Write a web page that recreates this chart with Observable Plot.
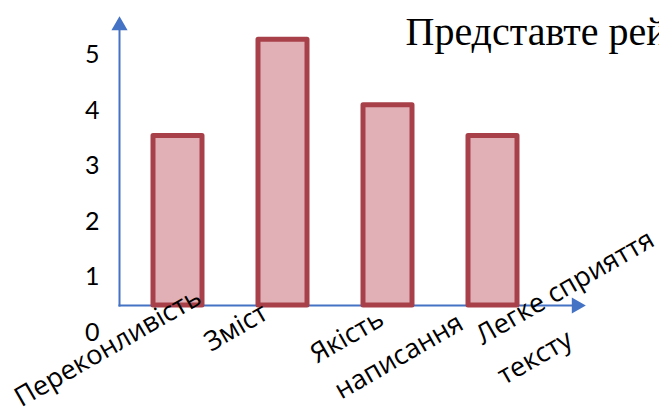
<!DOCTYPE html>
<html>
<head>
<meta charset="utf-8">
<script src="https://cdn.jsdelivr.net/npm/d3@7"></script>
<script src="https://cdn.jsdelivr.net/npm/@observablehq/plot@0.6"></script>
<style>
  html, body { margin: 0; padding: 0; background: #fff; overflow: hidden; }
  #chart svg { display: block; overflow: hidden; }
</style>
</head>
<body>
<div id="chart"></div>
<script>
// ---- data ----
const categories = ["Переконливість", "Зміст", "Якість написання", "Легке сприяття тексту"];
const values = [3.05, 4.78, 3.6, 3.05];
const labelLines = [["Переконливість"], ["Зміст"], ["Якість", "написання"], ["Легке сприяття", "тексту"]];
const yTicks = [0, 1, 2, 3, 4, 5];
const title = "Представте рейтинг";

// ---- layout (not data) ----
const W = 659, H = 414;
const blue = "#4472c4";
const fillC = "#e0b0b6", strokeC = "#a8404a";
const tickFont = "Lato, 'Open Sans', sans-serif";
const labelFont = "'Open Sans', 'Noto Sans', sans-serif";
// per-line label offsets from (category centre, baseline)
const labelOffsets = [
  [[-70, 42]],
  [[-47, 22]],
  [[-41, 31], [11, 51]],
  [[72, -18], [42, 52]]
];

const table = categories.map((c, i) => ({cat: c, value: values[i]}));

const labelMarks = [];
labelLines.forEach((lines, i) => {
  lines.forEach((line, j) => {
    const [dx, dy] = labelOffsets[i][j];
    labelMarks.push(Plot.text([categories[i]], {
      x: d => d, y: () => 0, text: () => line,
      dx, dy, rotate: -30, textAnchor: "middle", lineAnchor: "middle",
      fontSize: 27, fontFamily: labelFont, fill: "#000"
    }));
  });
});

const chart = Plot.plot({
  width: W, height: H,
  marginLeft: 119, marginRight: 83, marginTop: 25, marginBottom: H - 305,
  x: {domain: categories, paddingInner: 0.535, paddingOuter: 0.4345, align: 0.368, axis: null},
  y: {domain: [0, 280 / 55.6], axis: null},
  style: {background: "#fff", overflow: "hidden"},
  marks: [
    Plot.frame({anchor: "left", stroke: blue, strokeWidth: 2}),
    Plot.frame({anchor: "bottom", stroke: blue, strokeWidth: 2}),
    Plot.dot([0], {frameAnchor: "top-left", symbol: "triangle", r: 6, fill: blue, stroke: "none"}),
    Plot.dot([0], {frameAnchor: "bottom-right", symbol: "triangle", r: 6, fill: blue, stroke: "none", rotate: 90}),
    Plot.barY(table, {x: "cat", y: "value", fill: fillC, stroke: strokeC, strokeWidth: 5, strokeLinejoin: "round"}),
    Plot.text(yTicks, {y: d => d, text: d => String(d), frameAnchor: "left", dx: -20, dy: 27.5,
      textAnchor: "end", lineAnchor: "middle", fontSize: 25, fontFamily: tickFont, fill: "#000"}),
    ...labelMarks,
    Plot.text([title], {frameAnchor: "top-left", text: d => d, dx: 286, dy: 6.5, textAnchor: "start",
      lineAnchor: "middle", fontSize: 40, fontFamily: "'Liberation Serif', 'DejaVu Serif', serif", fill: "#000"})
  ]
});
document.getElementById("chart").appendChild(chart);
</script>
</body>
</html>
